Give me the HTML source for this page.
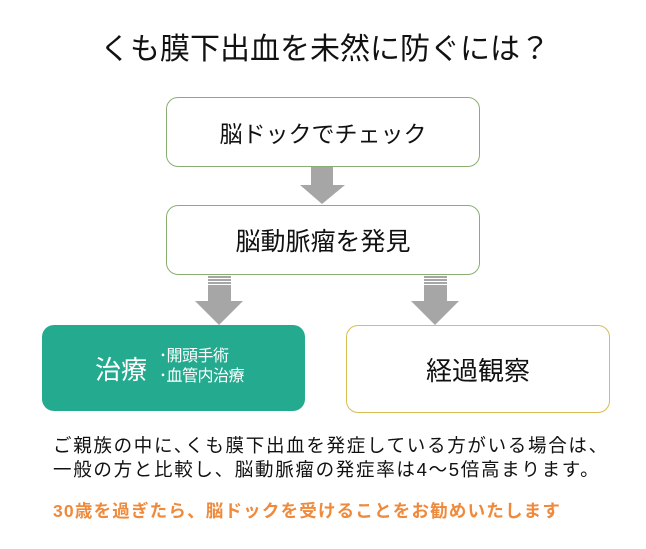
<!DOCTYPE html>
<html><head><meta charset="utf-8"><style>
body{margin:0;width:646px;height:549px;background:#fff;position:relative;overflow:hidden;font-family:"Liberation Sans","Noto Sans CJK JP",sans-serif;color:#111}
.a{position:absolute}
.box{position:absolute;border:1px solid #8aae72;border-radius:12px;background:#fff;display:flex;align-items:center;justify-content:center;font-size:25px}
</style></head><body>
<div class="a" style="left:100px;top:24px;font-size:30px;letter-spacing:0px;white-space:nowrap">くも膜下出血を未然に防ぐには？</div>
<div class="box" style="left:166px;top:97px;width:312px;height:68px;font-size:23px">脳ドックでチェック</div>
<div class="box" style="left:166px;top:205px;width:312px;height:68px">脳動脈瘤を発見</div>
<svg class="a" style="left:0;top:0" width="646" height="549">
<g fill="#a6a6a6">
<rect x="311" y="167" width="22" height="18"/><polygon points="300,185 345,185 322,204"/>
<rect x="208" y="276" width="23" height="2"/><rect x="208" y="279" width="23" height="2"/><rect x="208" y="282" width="23" height="2"/>
<rect x="208" y="285" width="23" height="16"/><polygon points="195,301 243,301 219,325"/>
<rect x="424" y="276" width="23" height="2"/><rect x="424" y="279" width="23" height="2"/><rect x="424" y="282" width="23" height="2"/>
<rect x="424" y="285" width="23" height="16"/><polygon points="411,301 459,301 435,325"/>
</g></svg>
<div class="a" style="left:42px;top:325px;width:263px;height:86px;background:#24aa8e;border-radius:12px;color:#fff">
<div class="a" style="left:53px;top:25px;font-size:26px">治療</div>
<div class="a" style="left:117px;top:22px;font-size:16px;line-height:20px;letter-spacing:-0.5px;white-space:nowrap">･開頭手術<br>･血管内治療</div>
</div>
<div class="box" style="left:346px;top:325px;width:262px;height:86px;border-color:#d7bd52;font-size:26px">経過観察</div>
<div class="a" style="left:53px;top:434px;font-size:18.5px;line-height:24px;letter-spacing:1.7px;white-space:nowrap">ご親族の中に､くも膜下出血を発症している方がいる場合は、<br>一般の方と比較し、脳動脈瘤の発症率は4～5倍高まります。</div>
<div class="a" style="left:53px;top:498px;font-size:17.5px;font-weight:bold;letter-spacing:1.2px;color:#ef8a3c;white-space:nowrap">30歳を過ぎたら、脳ドックを受けることをお勧めいたします</div>
</body></html>
